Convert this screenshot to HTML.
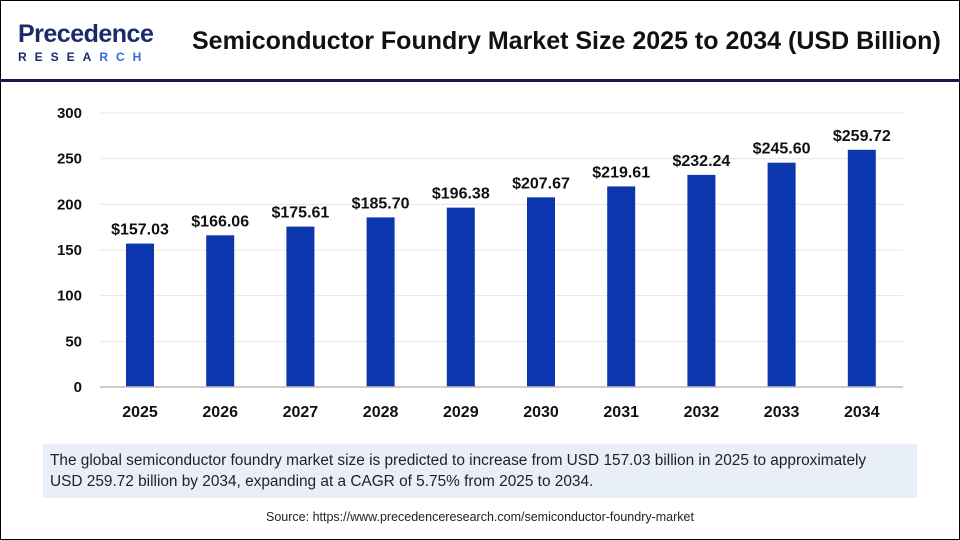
<!DOCTYPE html>
<html><head><meta charset="utf-8"><style>
body{margin:0;width:960px;height:540px;overflow:hidden;background:#fff;font-family:"Liberation Sans",sans-serif;}
#frame{position:absolute;left:0;top:0;width:958px;height:538px;border:1px solid #000;}
</style></head><body>
<div id="frame"></div>
<div style="position:absolute;left:18px;top:21px;">
 <div style="font-size:25px;color:#1b2a6b;font-weight:bold;line-height:26px;letter-spacing:-0.5px;">Precedence</div>
 <div style="font-size:12px;color:#1b2a6b;font-weight:bold;letter-spacing:8px;margin-top:3px;">RESEA<span style="color:#2a6fd6">RCH</span></div>
</div>
<div style="position:absolute;left:192px;top:27px;font-size:25px;font-weight:bold;color:#111;white-space:nowrap;">Semiconductor Foundry Market Size 2025 to 2034 (USD Billion)</div>
<div style="position:absolute;left:0;top:79px;width:960px;height:3px;background:#141a4a;"></div>
<svg id="chart" width="960" height="540" style="position:absolute;left:0;top:0"></svg>
<div style="position:absolute;left:43px;top:444px;width:860px;height:42px;padding:6px 7px;background:#e8eff9;font-size:15.4px;line-height:21px;color:#222;white-space:nowrap;">The global semiconductor foundry market size is predicted to increase from USD 157.03 billion in 2025 to approximately<br>USD 259.72 billion by 2034, expanding at a CAGR of 5.75% from 2025 to 2034.</div>
<div style="position:absolute;left:0;width:960px;top:510px;text-align:center;font-size:12.5px;color:#222;">Source: https://www.precedenceresearch.com/semiconductor-foundry-market</div>
<script>
const categories=["2025","2026","2027","2028","2029","2030","2031","2032","2033","2034"];
const values=[157.03,166.06,175.61,185.70,196.38,207.67,219.61,232.24,245.60,259.72];
const yTicks=[0,50,100,150,200,250,300];
const svg=document.getElementById('chart');
const NS='http://www.w3.org/2000/svg';
const y0=387,y1=113,yMax=300;
const y=v=>y0-(v/yMax)*(y0-y1);
const x=i=>140+i*80.2;
function mk(t,a){const e=document.createElementNS(NS,t);for(const k in a)e.setAttribute(k,a[k]);svg.appendChild(e);return e;}
yTicks.forEach(t=>{
 if(t>0){const g=mk('line',{x1:100,x2:903,y1:y(t),y2:y(t),stroke:'#e6e6e6','stroke-width':1});
 
 }
 const l=mk('text',{x:82,y:y(t)+5,'text-anchor':'end','font-size':15,'font-weight':'bold',fill:'#111','font-family':'Liberation Sans'});
 l.textContent=t;
 
 
});
values.forEach((v,i)=>{
 const b=mk('rect',{x:x(i)-14,y:y(v),width:28,height:y0-y(v),fill:'#0b36ad'});
 
 
 const t=mk('text',{x:x(i),y:y(v)-9,'text-anchor':'middle','font-size':16,'font-weight':'bold',fill:'#111','font-family':'Liberation Sans'});
 t.textContent='$'+v.toFixed(2);
 
 
 const c=mk('text',{x:x(i),y:417,'text-anchor':'middle','font-size':16,'font-weight':'bold',fill:'#111','font-family':'Liberation Sans'});
 c.textContent=categories[i];
 
 
});
const ax=mk('line',{x1:100,x2:903,y1:y0,y2:y0,stroke:'#bbb','stroke-width':1.5});


</script>
</body></html>
